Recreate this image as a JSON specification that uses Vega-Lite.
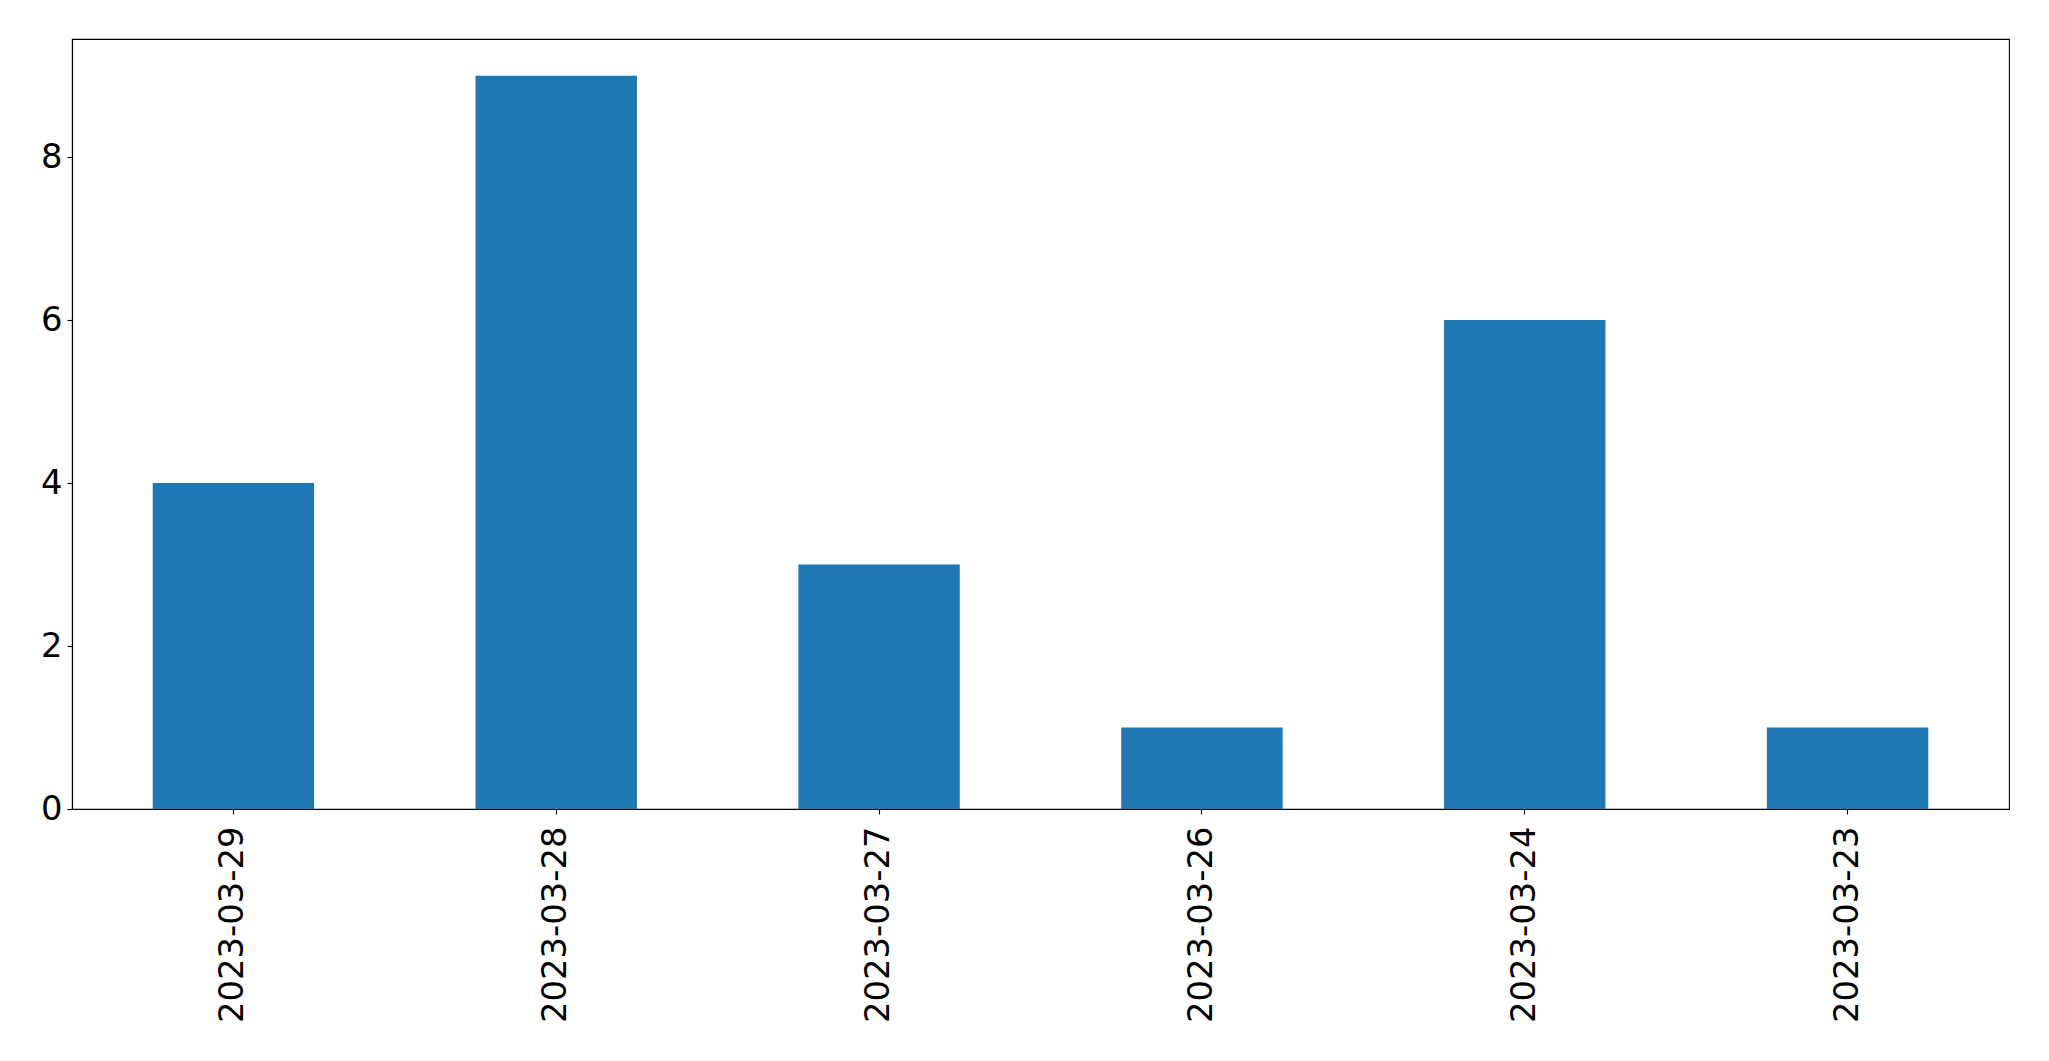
{
  "$schema": "https://vega.github.io/schema/vega-lite/v6.json",
  "width": 1937,
  "height": 770,
  "autosize": {"type": "none"},
  "padding": {"left": 72, "top": 39, "right": 40, "bottom": 252},
  "background": "white",
  "config": {
    "view": {"stroke": "black", "strokeWidth": 1.1},
    "font": "DejaVu Sans",
    "axis": {
      "labelFont": "DejaVu Sans",
      "labelFontSize": 33.8,
      "labelColor": "black",
      "labelLimit": 1000,
      "tickColor": "black",
      "tickSize": 5,
      "tickWidth": 1.1,
      "domainColor": "black",
      "domainWidth": 1.1,
      "labelPadding": 5,
      "grid": false,
      "title": null
    }
  },
  "data": {
    "values": [
      {"date": "2023-03-29", "count": 4},
      {"date": "2023-03-28", "count": 9},
      {"date": "2023-03-27", "count": 3},
      {"date": "2023-03-26", "count": 1},
      {"date": "2023-03-24", "count": 6},
      {"date": "2023-03-23", "count": 1}
    ]
  },
  "mark": {"type": "bar", "color": "#1f77b4"},
  "encoding": {
    "x": {
      "field": "date",
      "type": "nominal",
      "sort": null,
      "scale": {"paddingInner": 0.5, "paddingOuter": 0.25},
      "axis": {"labelAngle": -90, "labelAlign": "right", "labelBaseline": "middle", "labelPadding": 12, "labelLimit": 1000}
    },
    "y": {
      "field": "count",
      "type": "quantitative",
      "scale": {"domain": [0, 9.45], "nice": false},
      "axis": {"values": [0, 2, 4, 6, 8]}
    }
  }
}
